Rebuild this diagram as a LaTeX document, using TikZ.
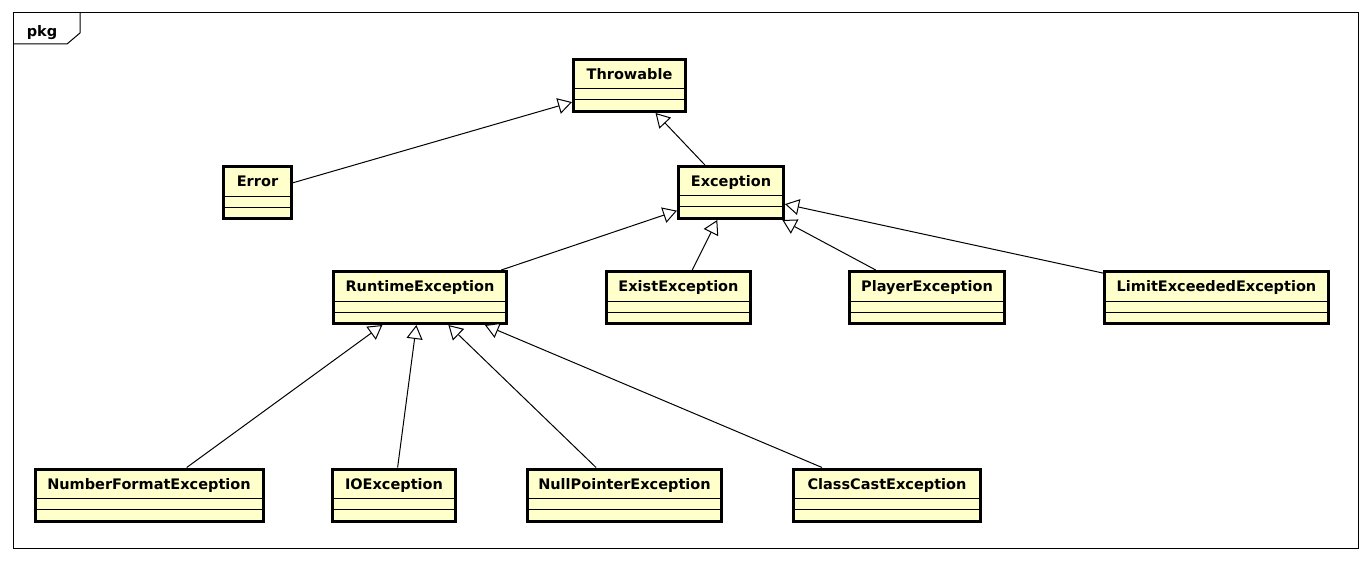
\documentclass[tikz,border=0pt]{standalone}
\usepackage{fontspec}
\setmainfont{DejaVu Sans}
\usetikzlibrary{arrows.meta,calc}
\definecolor{classfill}{RGB}{255,255,204}
\begin{document}
\begin{tikzpicture}[x=1pt,y=-1pt,
  namefont/.style={font=\bfseries\fontsize{14.5}{16}\selectfont},
  cls/.style={draw=black, line width=3pt, fill=classfill,
    minimum height=52pt, inner sep=0pt},
  cname/.style={anchor=base, yshift=-21.5pt, namefont, inner sep=0pt},
  sepline/.style={draw=black, line width=1pt},
  gen/.style={draw=black, line width=1pt,
    -{Triangle[open, length=14pt, width=16pt, fill=white]}},
  frame/.style={draw=black, line width=1pt}]

\useasboundingbox (0,0) rectangle (1372,561);

% package frame and its tab
\draw[frame] (13,13) rectangle (1358,548);
\draw[frame] (13,44) -- (67,44) -- (80,33) -- (80,13);
\node[namefont, anchor=base, inner sep=0pt] (pkg) at (42,37) {pkg};

% classes
\node[cls, minimum width=112pt, label={[cname, name=thr-l]north:Throwable}] (thr) at (629.5,85.5) {};
\node[cls, minimum width=68pt, label={[cname, name=err-l]north:Error}] (err) at (257.5,193) {};
\node[cls, minimum width=105pt, label={[cname, name=exc-l]north:Exception}] (exc) at (731,192.5) {};
\node[cls, minimum width=173pt, label={[cname, name=rte-l]north:RuntimeException}] (rte) at (420,297.5) {};
\node[cls, minimum width=144pt, label={[cname, name=ext-l]north:ExistException}] (ext) at (678.5,297.5) {};
\node[cls, minimum width=155pt, label={[cname, name=ply-l]north:PlayerException}] (ply) at (927,297.5) {};
\node[cls, minimum width=224pt, label={[cname, name=lim-l]north:LimitExceededException}] (lim) at (1216.5,297.5) {};
\node[cls, minimum width=228pt, label={[cname, name=nfe-l]north:NumberFormatException}] (nfe) at (149,495) {};
\node[cls, minimum width=123pt, label={[cname, name=ioe-l]north:IOException}] (ioe) at (394,495) {};
\node[cls, minimum width=194pt, label={[cname, name=npe-l]north:NullPointerException}] (npe) at (624.5,495) {};
\node[cls, minimum width=187pt, label={[cname, name=cce-l]north:ClassCastException}] (cce) at (887,495) {};

% attribute and operation compartments
\foreach \c in {thr,err,exc,rte,ext,ply,lim,nfe,ioe,npe,cce}{
  \draw[sepline] ($(\c.north west)+(0,31)$) -- ($(\c.north east)+(0,31)$);
  \draw[sepline] ($(\c.north west)+(0,42)$) -- ($(\c.north east)+(0,42)$);
}

% generalizations
\draw[gen] (err) -- (thr);
\draw[gen] (exc) -- (thr);
\draw[gen] (rte) -- (exc);
\draw[gen] (ext) -- (exc);
\draw[gen] (ply) -- (exc);
\draw[gen] (lim) -- (exc);
\draw[gen] (nfe) -- (rte);
\draw[gen] (ioe) -- (rte);
\draw[gen] (npe) -- (rte);
\draw[gen] (cce) -- (rte);
\end{tikzpicture}
\end{document}
